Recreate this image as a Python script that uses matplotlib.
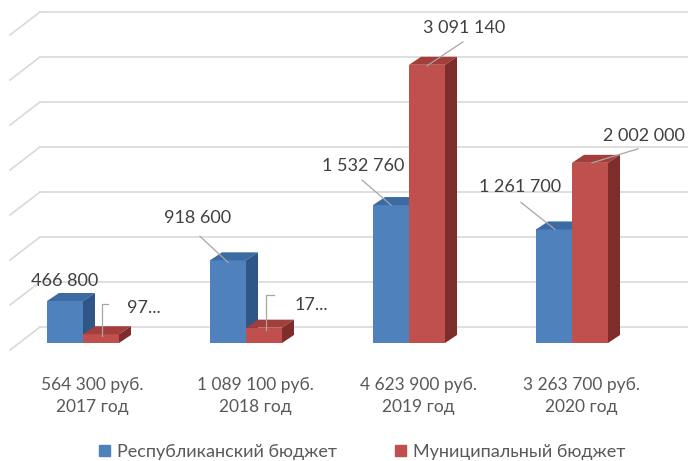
import matplotlib.pyplot as plt
from matplotlib.patches import Polygon

plt.rcParams['font.family'] = ['Lato', 'DejaVu Sans']

years = ['2017 год', '2018 год', '2019 год', '2020 год']
totals = ['564 300 руб.', '1 089 100 руб.', '4 623 900 руб.', '3 263 700 руб.']
rep_budget = [466800, 918600, 1532760, 1261700]
mun_budget = [97500, 170500, 3091140, 2002000]
rep_labels = ['466 800', '918 600', '1 532 760', '1 261 700']
mun_labels = ['97...', '17...', '3 091 140', '2 002 000']
series_names = ['Республиканский бюджет', 'Муниципальный бюджет']

blue = ['#4f81bd', '#3c6aa2', '#2f5687']
red = ['#c0504d', '#a23e3b', '#7e2d2b']

dpi = 100
fig = plt.figure(dpi=dpi, figsize=(688 / dpi, 461 / dpi))
ax = fig.add_axes([0, 101 / 461, 1, 360 / 461])

# pixel scale: 163 px per group, 90 px per million
sx = 163.0
sy = 90.0 / 1e6
ax.set_xlim(-83 / sx, (688 - 83) / sx)
ax.set_ylim(-17 / sy, 343 / sy)


def px(d):
    return d / sx


def py(d):
    return d / sy


# back wall gridlines with the left side wall
wall = py(16)
for k in range(8):
    v = k * 500000 + wall
    ax.plot([px(-43), px(620)], [v, v], color='#d9d9d9', lw=1.2, zorder=1)
    ax.plot([px(-73), px(-43)], [v - py(23), v], color='#d9d9d9', lw=1.2, zorder=1)

w = px(36)
dx, dy = px(12), py(8)
xs = list(range(len(years)))


def bar3d(x0, h, cols, z):
    ax.bar(x0, h, w, align='edge', color=cols[0], zorder=z, linewidth=0)
    top = [(x0, h), (x0 + w, h), (x0 + w + dx, h + dy), (x0 + dx, h + dy)]
    side = [(x0 + w, 0), (x0 + w, h), (x0 + w + dx, h + dy), (x0 + w + dx, dy)]
    ax.add_patch(Polygon(top, closed=True, color=cols[1], zorder=z, lw=0))
    ax.add_patch(Polygon(side, closed=True, color=cols[2], zorder=z, lw=0))


for i in xs:
    bar3d(i - w, rep_budget[i], blue, 2 + i)
    bar3d(i, mun_budget[i], red, 2.5 + i)

# data labels: text offset and leader points in pixels from bar top centre
rep_pos = [((0, 20), []),
           ((-30, 42), [(0, -2), (-28, 24)]),
           ((-28, 39), [(0, 0), (-29, 25)]),
           ((-34, 42), [(1, 0), (-33, 27)])]
mun_pos = [((43, 26), [(1, -2), (1, 30), (7, 30)]),
           ((47, 23), [(2, -2), (2, 33), (10, 33)]),
           ((37, 37), [(0, -1), (36, 23)]),
           ((54, 27), [(2, 0), (48, 14)])]

for vals, labels, pos, shift in [(rep_budget, rep_labels, rep_pos, -w / 2),
                                 (mun_budget, mun_labels, mun_pos, w / 2)]:
    for i in xs:
        bx, by = i + shift, vals[i]
        (tx, ty), lead = pos[i]
        ax.text(bx + px(tx), by + py(ty), labels[i], ha='center', va='center',
                fontsize=13, color='#404040', zorder=10)
        if lead:
            ax.plot([bx + px(p[0]) for p in lead], [by + py(p[1]) for p in lead],
                    color='#a6a6a6', lw=0.9, zorder=10)

ax.set_xticks([i + px(9) for i in xs])
ax.set_xticklabels([t + '\n' + y for t, y in zip(totals, years)],
                   fontsize=12.5, color='#595959', linespacing=1.5)
ax.tick_params(axis='x', length=0, pad=12)
ax.set_yticks([])
for s in ax.spines.values():
    s.set_visible(False)

handles = [plt.Rectangle((0, 0), 1, 1, color=blue[0]),
           plt.Rectangle((0, 0), 1, 1, color=red[0])]
fig.legend(handles, series_names, loc='center', bbox_to_anchor=(0.527, 9 / 461),
           ncol=2, frameon=False, fontsize=13, handlelength=0.6, handleheight=0.6,
           handletextpad=0.4, columnspacing=3.2, labelcolor='#595959')

fig.savefig('out.png', dpi=dpi)
